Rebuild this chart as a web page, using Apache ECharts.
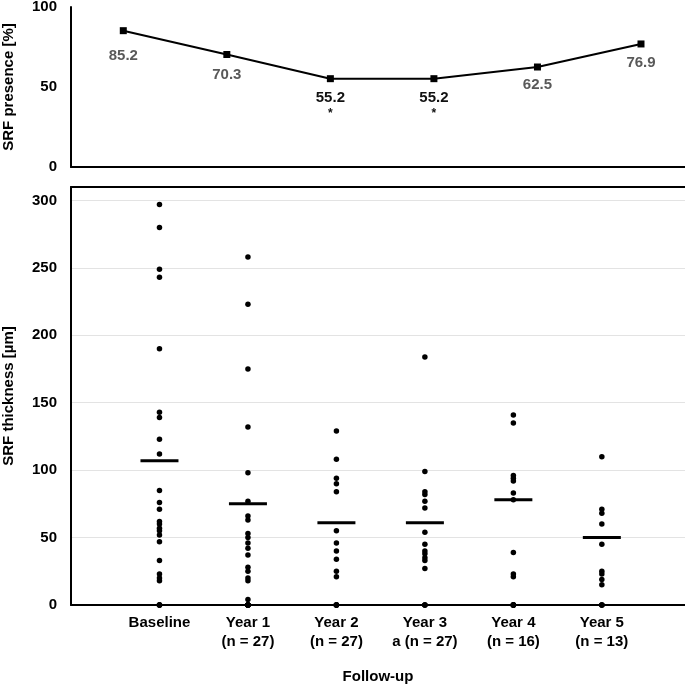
<!DOCTYPE html>
<html>
<head>
<meta charset="utf-8">
<script src="https://cdn.jsdelivr.net/npm/echarts@6/dist/echarts.min.js"></script>
<style>html,body{margin:0;padding:0;background:#fff}#c{width:685px;height:684px}</style>
</head>
<body>
<div id="c"></div>
<script>
const categories = ['Baseline', 'Year 1\n(n = 27)', 'Year 2\n(n = 27)', 'Year 3\na (n = 27)', 'Year 4\n(n = 16)', 'Year 5\n(n = 13)'];
const presence = [85.2, 70.3, 55.2, 55.2, 62.5, 76.9];
const significant = [false, false, true, true, false, false];
const presenceTicks = [0, 50, 100];
const thicknessTicks = [0, 50, 100, 150, 200, 250, 300];

const baseline = [297, 280, 249, 243, 190, 143, 139, 123, 112, 85, 76, 71, 62, 60, 57, 55, 52, 47, 33, 23, 20, 18, 0, 0, 0, 0];
const year1 = [258, 223, 175, 132, 98, 77, 66, 63, 53, 50, 46, 42, 37, 28, 25, 20, 18, 4, 0, 0, 0, 0, 0, 0, 0, 0];
const year2 = [129, 108, 94, 90, 84, 55, 46, 40, 34, 25, 21, 0, 0, 0, 0, 0];
const year3 = [184, 99, 84, 82, 77, 72, 54, 45, 40, 38, 35, 33, 27, 0, 0, 0];
const year4 = [141, 135, 96, 94, 92, 83, 78, 39, 23, 21, 0, 0, 0, 0, 0, 0];
const year5 = [110, 71, 68, 60, 45, 25, 23, 19, 15, 0, 0, 0];
const groups = [baseline, year1, year2, year3, year4, year5];
const means = [107, 75, 61, 61, 78, 50];

const FONT = "'Liberation Sans', Arial, sans-serif";
const labelDist = [14, 9, 8, 8, 7, 8];

const dots = [];
groups.forEach((g, i) => g.forEach(v => dots.push([i + 1, v])));

const chart = echarts.init(document.getElementById('c'), null, {renderer: 'canvas'});
chart.setOption({
  animation: false,
  backgroundColor: '#fff',
  grid: [
    {left: 71, top: 7, right: 0, height: 160, containLabel: false, outerBoundsMode: 'none'},
    {left: 71, top: 187, right: 0, height: 418, containLabel: false, outerBoundsMode: 'none'}
  ],
  xAxis: [
    {gridIndex: 0, type: 'value', min: -0.505, max: 5.425,
     axisLine: {show: true, onZero: false, lineStyle: {color: '#000', width: 2}},
     axisTick: {show: false}, axisLabel: {show: false}, splitLine: {show: false}},
    {gridIndex: 1, type: 'value', min: 0, max: 6.94, interval: 1,
     name: 'Follow-up', nameLocation: 'middle', nameGap: 64, nameMoveOverlap: false,
     nameTextStyle: {fontFamily: FONT, fontWeight: 'bold', fontSize: 15, color: '#000'},
     axisLine: {show: true, onZero: false, lineStyle: {color: '#000', width: 2}},
     axisTick: {show: false}, splitLine: {show: false},
     axisLabel: {show: true, showMaxLabel: false, showMinLabel: false, margin: 8,
       fontFamily: FONT, fontWeight: 'bold', fontSize: 15, lineHeight: 19, color: '#000',
       formatter: v => categories[Math.round(v) - 1] || ''}},
    {gridIndex: 1, type: 'value', position: 'top', min: 0, max: 6.94,
     axisLine: {show: true, onZero: false, lineStyle: {color: '#000', width: 2}},
     axisTick: {show: false}, axisLabel: {show: false}, splitLine: {show: false}}
  ],
  yAxis: [
    {gridIndex: 0, type: 'value', min: presenceTicks[0], max: presenceTicks[presenceTicks.length - 1], interval: 50,
     name: 'SRF presence [%]', nameLocation: 'middle', nameGap: 55, nameRotate: 90, nameMoveOverlap: false,
     nameTextStyle: {fontFamily: FONT, fontWeight: 'bold', fontSize: 15, color: '#000'},
     axisLine: {show: true, onZero: false, lineStyle: {color: '#000', width: 2}},
     axisTick: {show: false}, splitLine: {show: false},
     axisLabel: {margin: 14, fontFamily: FONT, fontWeight: 'bold', fontSize: 15, color: '#000'}},
    {gridIndex: 1, type: 'value', min: 0, max: 310, interval: 50,
     name: 'SRF thickness [µm]', nameLocation: 'middle', nameGap: 55, nameRotate: 90, nameMoveOverlap: false,
     nameTextStyle: {fontFamily: FONT, fontWeight: 'bold', fontSize: 15, color: '#000'},
     axisLine: {show: true, onZero: false, lineStyle: {color: '#000', width: 2}},
     axisTick: {show: false},
     splitLine: {show: true, lineStyle: {color: '#e3e3e3', width: 1}},
     axisLabel: {margin: 14, showMaxLabel: false, fontFamily: FONT, fontWeight: 'bold', fontSize: 15, color: '#000',
       formatter: v => thicknessTicks.includes(v) ? String(v) : ''}}
  ],
  series: [
    {type: 'line', xAxisIndex: 0, yAxisIndex: 0,
     data: presence.map((v, i) => ({
       value: [i, v],
       label: {
         show: true, position: 'bottom', distance: labelDist[i],
         formatter: significant[i] ? '{a|' + v.toFixed(1) + '}\n{b|*}' : v.toFixed(1),
         color: significant[i] ? '#111' : '#595959',
         rich: {a: {fontFamily: FONT, fontWeight: 'bold', fontSize: 15, color: '#111', lineHeight: 16},
                b: {fontFamily: FONT, fontWeight: 'bold', fontSize: 12, color: '#111', lineHeight: 16}}
       }
     })),
     symbol: 'rect', symbolSize: 7,
     lineStyle: {color: '#000', width: 2},
     itemStyle: {color: '#000'},
     label: {fontFamily: FONT, fontWeight: 'bold', fontSize: 15}},
    {type: 'scatter', xAxisIndex: 1, yAxisIndex: 1, data: dots,
     symbol: 'circle', symbolSize: 5.5, itemStyle: {color: '#000', opacity: 1}, z: 3},
    {type: 'scatter', xAxisIndex: 1, yAxisIndex: 1, data: means.map((m, i) => [i + 1, m]),
     symbol: 'rect', symbolSize: [38, 3], itemStyle: {color: '#000', opacity: 1}, z: 4}
  ]
});
</script>
</body>
</html>
